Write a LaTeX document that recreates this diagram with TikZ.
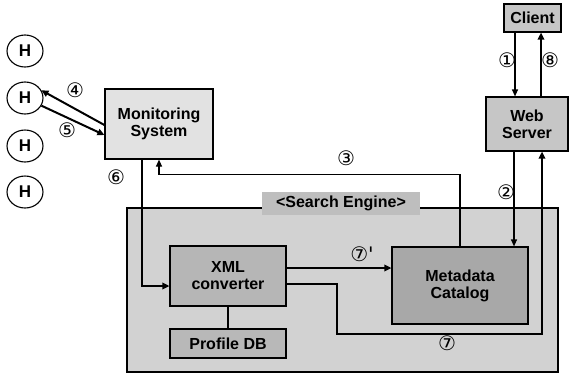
\documentclass[tikz,border=0pt]{standalone}
\usepackage{fontspec}
\setmainfont{Liberation Sans}
\newfontfamily\numfont{DejaVu Sans}
\usetikzlibrary{arrows.meta,shapes.geometric}
\definecolor{monfill}{HTML}{E2E2E2}
\definecolor{srvfill}{HTML}{C6C6C6}
\definecolor{outfill}{HTML}{D2D2D2}
\definecolor{xmlfill}{HTML}{B6B6B6}
\definecolor{metafill}{HTML}{A8A8A8}
\definecolor{pdbfill}{HTML}{B8B8B8}
\definecolor{tabfill}{HTML}{BEBEBE}
\tikzset{
  box/.style={draw=black, line width=1.2pt, inner sep=0pt, align=center,
    font=\fontsize{16}{17}\selectfont\bfseries},
  hnode/.style={draw=black, line width=1.1pt, ellipse, fill=white, minimum width=36pt,
    minimum height=32pt, inner sep=0pt, font=\fontsize{17}{18}\selectfont\bfseries},
  num/.style={font=\numfont\fontsize{20}{20}\selectfont, inner sep=0pt},
  thinarr/.style={line width=1.2pt, -{Triangle[length=7pt,width=6pt]}},
  thickarr/.style={line width=2pt, -{Triangle[length=7pt,width=6.5pt]}},
  conn/.style={line width=1.2pt}
}
\begin{document}
\begin{tikzpicture}[x=1pt,y=-1pt]
\useasboundingbox (0,0) rectangle (569,376);
% Search engine container
\node[box, fill=outfill, minimum width=431pt, minimum height=164pt] (outer) at (342.5,290) {};
\node[fill=tabfill, minimum width=158pt, minimum height=23pt, inner sep=0pt,
  font=\fontsize{16}{17}\selectfont\bfseries] (tab) at (341,203.5) {<Search Engine>};
% boxes
\node[box, fill=monfill, minimum width=108pt, minimum height=70pt] (mon) at (159,124) {Monitoring\\System};
\node[box, fill=srvfill, minimum width=57pt, minimum height=28pt] (client) at (532.5,18) {Client};
\node[box, fill=srvfill, minimum width=82pt, minimum height=54pt] (web) at (527,124) {Web\\Server};
\node[box, fill=xmlfill, minimum width=116pt, minimum height=60pt] (xml) at (228,276) {XML\\converter};
\node[box, fill=pdbfill, minimum width=116pt, minimum height=29pt] (pdb) at (228,343.5) {Profile DB};
\node[box, fill=metafill, minimum width=136pt, minimum height=77pt] (meta) at (460,285.5) {Metadata\\Catalog};
% hosts
\node[hnode] (h1) at (25,51) {H};
\node[hnode] (h2) at (25,98) {H};
\node[hnode] (h3) at (25,146) {H};
\node[hnode] (h4) at (25,192) {H};
% helper coordinates
\coordinate (v1) at (515,0);
\coordinate (v8) at (541,0);
\coordinate (v2) at (514,0);
\coordinate (v7) at (542,0);
\coordinate (v6) at (142,0);
\coordinate (c7) at (337,334);
% connectors
\draw[thickarr] ([yshift=-1pt]mon.west) -- (h2.25);
\draw[thickarr] (h2.-25) -- ([yshift=-11pt]mon.west);
\draw[thinarr] (meta.north) -- ++(0,-72) -| (mon.south);
\draw[thinarr] (client.south -| v1) -- (web.north -| v1);
\draw[thickarr] (web.north -| v8) -- (client.south -| v8);
\draw[thinarr] (web.south -| v2) -- (meta.north -| v2);
\draw[thickarr] (mon.south -| v6) |- ([yshift=-10pt]xml.west);
\draw[thickarr] ([yshift=8pt]xml.east) -- ([yshift=8pt]xml.east -| meta.west);
\draw[thickarr] ([yshift=-8pt]xml.east) -| (c7) -| (web.south -| v7);
\draw[conn] (xml.south) -- (pdb.north);
% labels
\node[num] (l4) at (75,90) {④};
\node[num] (l5) at (67,130) {⑤};
\node[num] (l6) at (116,177) {⑥};
\node[num] (l3) at (346,158) {③};
\node[num] (l1) at (507,60) {①};
\node[num] (l8) at (550,60) {⑧};
\node[num] (l2) at (506,192) {②};
\node[num] (l7p) at (362,254) {⑦'};
\node[num] (l7) at (447,343) {⑦};
\end{tikzpicture}
\end{document}
